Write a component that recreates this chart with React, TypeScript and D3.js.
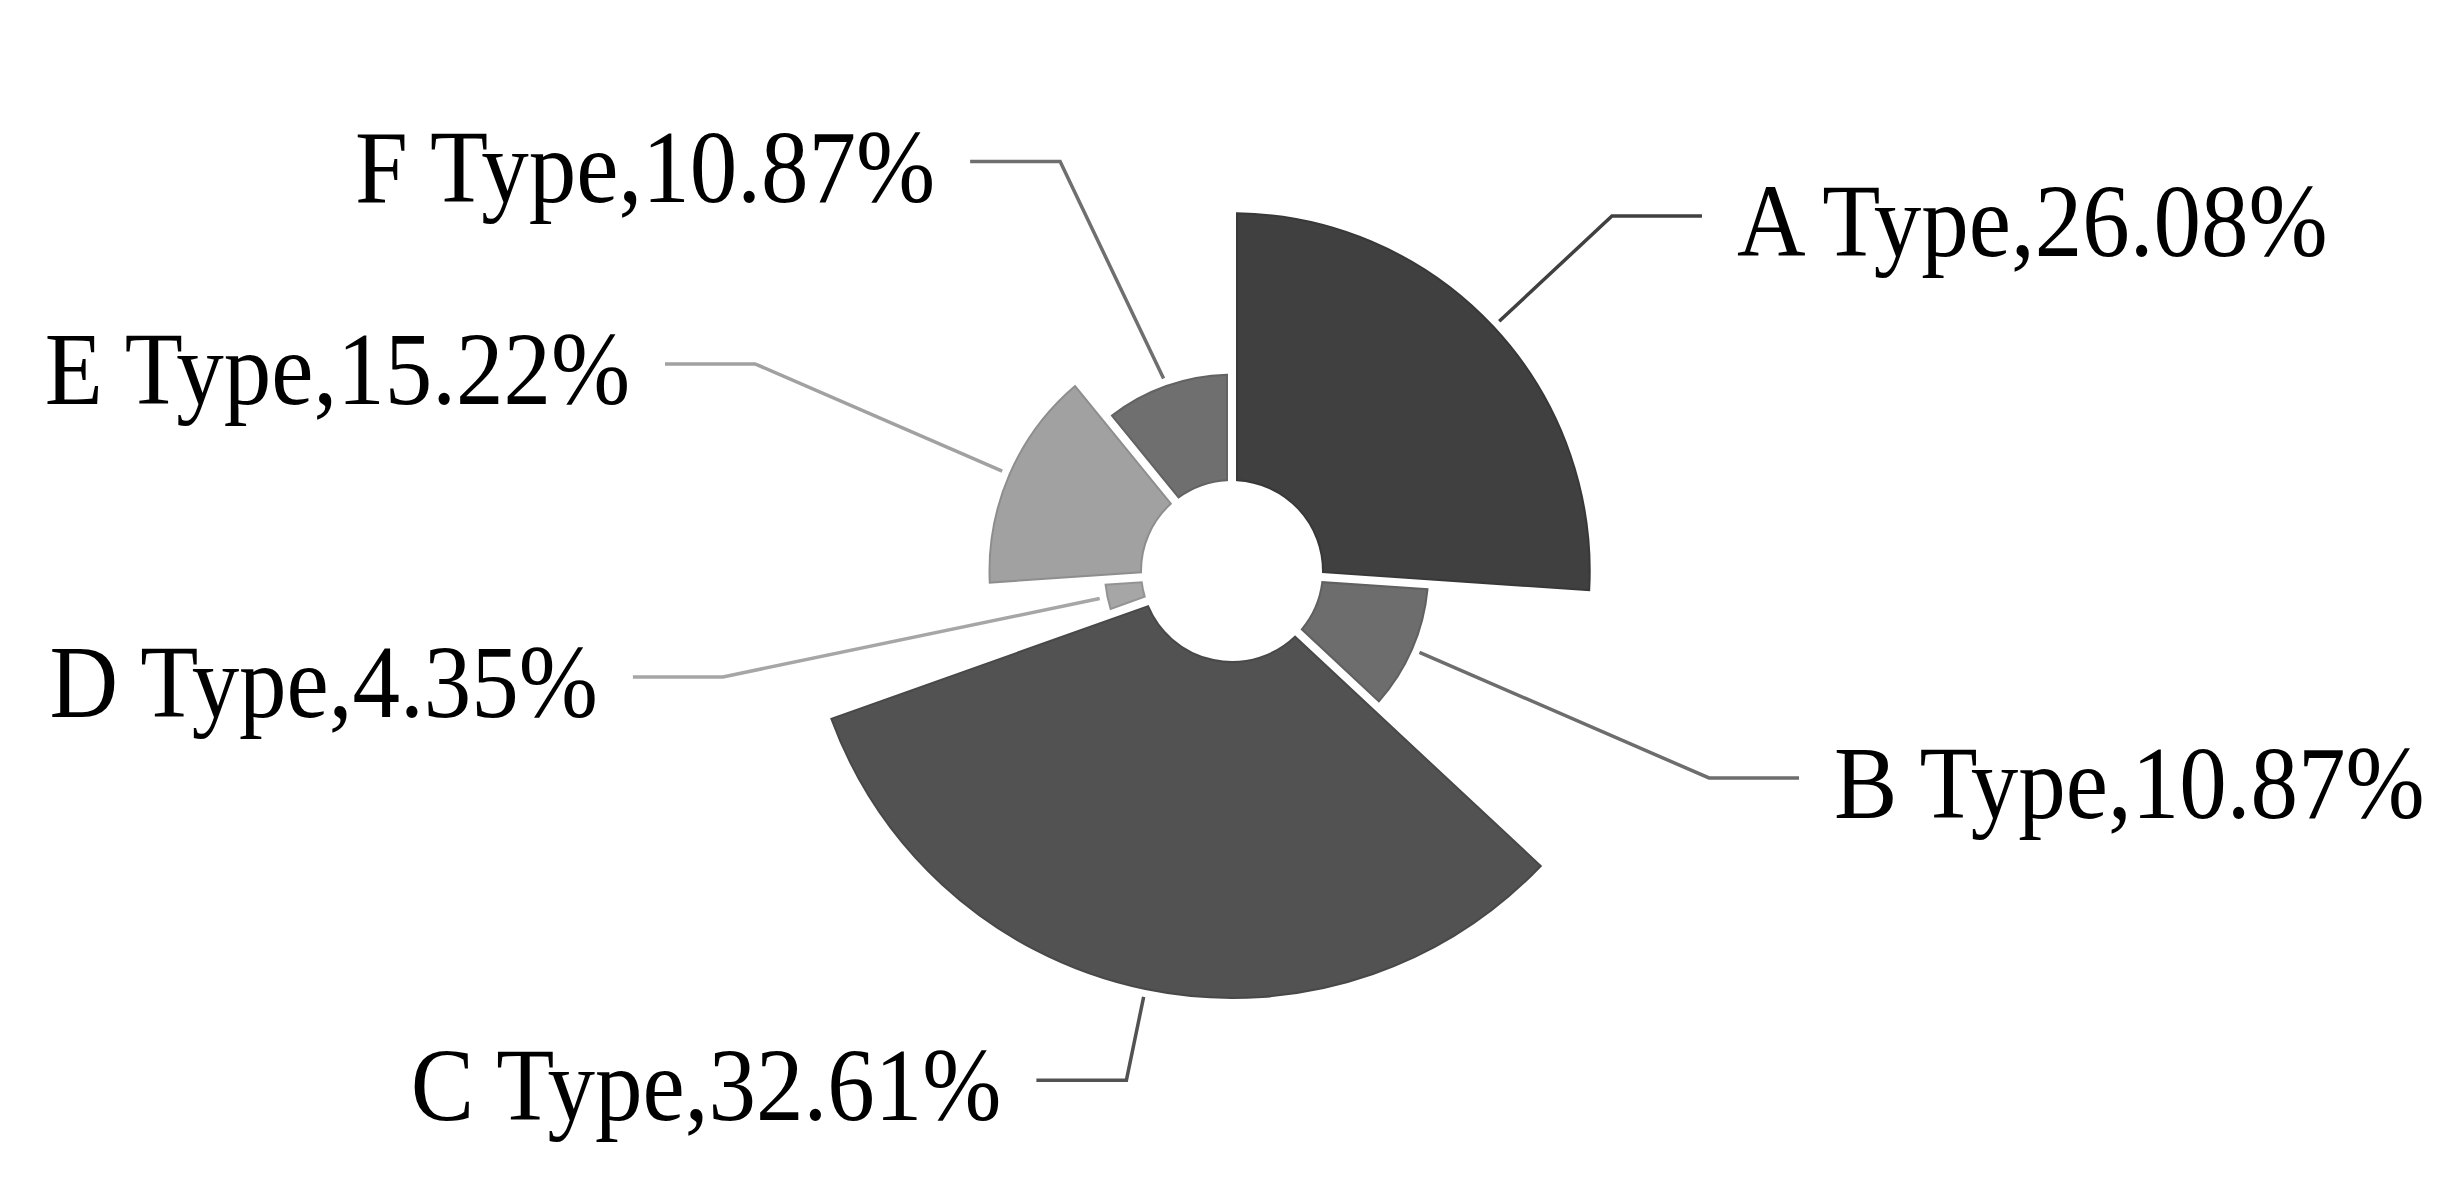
import * as d3 from 'd3';
import React from 'react';

// rose pie: angle and radius both follow the share
const categories = ['A Type', 'B Type', 'C Type', 'D Type', 'E Type', 'F Type'];
const shares = [26.08, 10.87, 32.61, 4.35, 15.22, 10.87];
const shades = ['#404040', '#6d6d6d', '#525252', '#a6a6a6', '#a1a1a1', '#6f6f6f'];

// where each leader bends (layout only): reach from the centre, and an angle nudge
const elbowReach = [520, 520, 520, 520, 520, 444];
const elbowNudge = [0, 0, 0, 0, 0, -0.056];

const W = 2462;
const H = 1181;
const cx = 1232;
const cy = 571;

function App() {
    const slices = d3.pie<number>().sort(null).value(d => d)(shares);

    const rScale = d3.scaleLinear()
        .domain([0, d3.max(shares) as number])
        .range([81, 427]);

    const arc = d3.arc<d3.PieArcDatum<number>>()
        .innerRadius(91)
        .outerRadius(d => rScale(d.data))
        .padAngle(0.025)
        .padRadius(400);

    const pt = (a: number, r: number): [number, number] => [cx + r * Math.sin(a), cy - r * Math.cos(a)];

    return (
        <svg width={W} height={H} style={{ position: 'absolute', left: 0, top: 0, background: '#fff' }}>
            <g transform={`translate(${cx},${cy})`}>
                {slices.map((s, i) => (
                    <path key={i} d={arc(s) as string} fill={shades[i]}
                        stroke={d3.color(shades[i])!.darker(0.35).toString()} strokeWidth={2} />
                ))}
            </g>
            {slices.map((s, i) => {
                const mid = (s.startAngle + s.endAngle) / 2;
                const right = mid < Math.PI;
                const p0 = pt(mid, rScale(s.data) + 8);
                const p1 = pt(mid + elbowNudge[i], elbowReach[i]);
                const p2: [number, number] = [p1[0] + (right ? 90 : -90), p1[1]];
                const tx = p2[0] + (right ? 35 : -35);
                const ty = p1[1] + 40;
                const line = d3.line()([p0, p1, p2]);
                return (
                    <g key={'l' + i}>
                        <path d={line as string} fill="none" stroke={shades[i]} strokeWidth={3.5} />
                        <text transform={`translate(${tx},${ty}) scale(0.95,1.04)`}
                            textAnchor={right ? 'start' : 'end'}
                            fontFamily="'Liberation Serif', 'Times New Roman', serif"
                            fontSize={100} fill="#000">
                            {`${categories[i]},${s.data.toFixed(2)}%`}
                        </text>
                    </g>
                );
            })}
        </svg>
    );
}

export default App;
